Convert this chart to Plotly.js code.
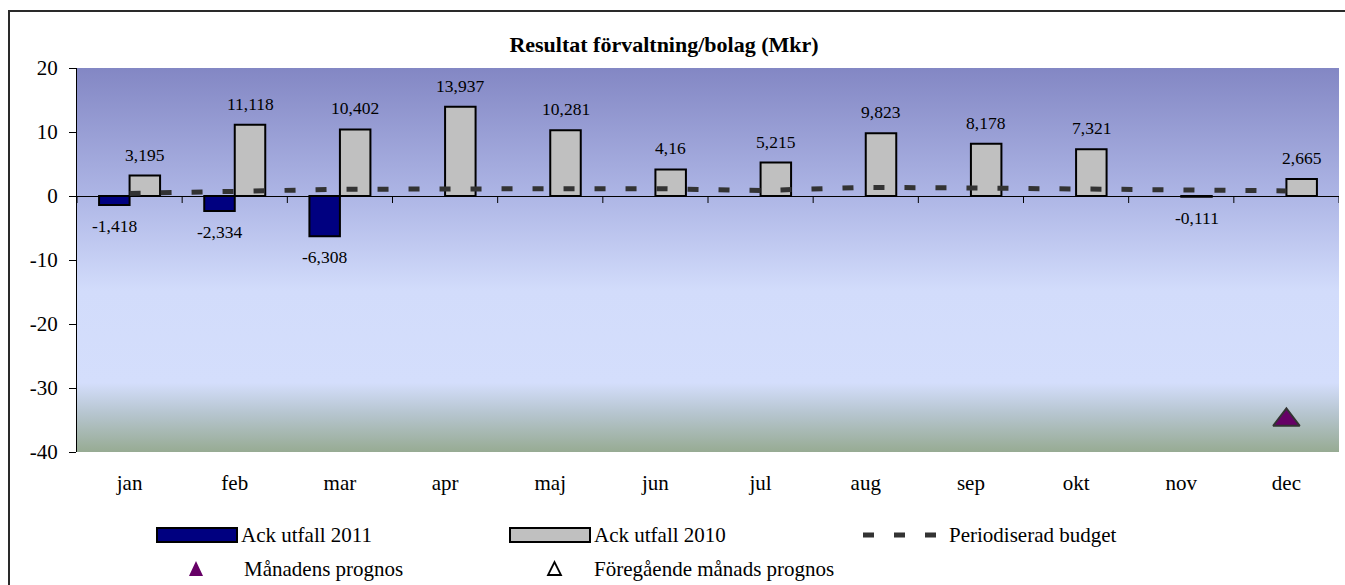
<!DOCTYPE html>
<html>
<head>
<meta charset="utf-8">
<script src="https://cdn.plot.ly/plotly-3.0.1.min.js"></script>
<style>
  html, body { margin: 0; padding: 0; background: #ffffff; overflow: hidden; }
  #wrap { position: relative; width: 1345px; height: 585px; overflow: hidden; }
  #frame { position: absolute; left: 8px; top: 10px; width: 1400px; height: 700px;
           border-left: 2px solid #2a2a2a; border-top: 2px solid #2a2a2a;
           border-right: none; border-bottom: none;
           box-sizing: border-box; pointer-events: none; z-index: 5; }
  #chart { position: absolute; left: 0; top: 0; width: 1345px; height: 585px; }
</style>
</head>
<body>
<div id="wrap">
  <div id="chart"></div>
  <div id="frame"></div>
</div>
<script>
// ---- data ----
const months = ['jan','feb','mar','apr','maj','jun','jul','aug','sep','okt','nov','dec'];
const ack2011 = [-1.418, -2.334, -6.308, null, null, null, null, null, null, null, null, null];
const ack2010 = [3.195, 11.118, 10.402, 13.937, 10.281, 4.16, 5.215, 9.823, 8.178, 7.321, -0.111, 2.665];
const budget  = [0.4, 0.8, 1.05, 1.1, 1.15, 1.15, 0.85, 1.35, 1.25, 1.15, 0.95, 0.8];
const manadensPrognos = [null, null, null, null, null, null, null, null, null, null, null, -35];
const foregaendePrognos = [null, null, null, null, null, null, null, null, null, null, null, null];
const yTicks = [-40, -30, -20, -10, 0, 10, 20];
const yRange = [-40, 20];

const seriesNames = ['Ack utfall 2011', 'Ack utfall 2010', 'Periodiserad budget', 'Månadens prognos', 'Föregående månads prognos'];

// ---- layout constants ----
const W = 1345, H = 585;
const M = {l: 77, r: 6, t: 68, b: 133};
const PW = W - M.l - M.r, PH = H - M.t - M.b;
const px = x => (x - M.l) / PW;
const py = y => (H - M.b - y) / PH;
const FONT = 'Liberation Serif, Times New Roman, serif';
const BARGAP = 0.42;
const half = (1 - BARGAP) / 4;   // offset of each bar centre within a group

const fmt = v => String(v).replace('.', ',');

const traces = [
  {type: 'bar', name: seriesNames[0], x: months, y: ack2011,
   marker: {color: '#000080', line: {color: '#000000', width: 2}}},
  {type: 'bar', name: seriesNames[1], x: months, y: ack2010,
   marker: {color: '#c0c0c0', line: {color: '#000000', width: 2}}},
  {type: 'scatter', mode: 'lines', name: seriesNames[2], x: months, y: budget,
   line: {color: '#333333', width: 5, dash: '11px,20px'}},
  {type: 'scatter', mode: 'markers', name: seriesNames[3], x: months, y: manadensPrognos,
   marker: {symbol: 'triangle-up', size: 23, color: '#660066', line: {color: '#333333', width: 2}}},
  {type: 'scatter', mode: 'markers', name: seriesNames[4], x: months, y: foregaendePrognos,
   marker: {symbol: 'triangle-up-open', size: 14, color: '#000000'}}
];

// ---- data labels ----
const annotations = [];
function addLabels(vals, offset) {
  vals.forEach((v, i) => {
    if (v === null) return;
    annotations.push({
      xref: 'x', yref: 'y', x: i + offset, y: v, text: fmt(v), showarrow: false,
      yanchor: v < 0 ? 'top' : 'bottom', yshift: v < 0 ? -9 : 9,
      font: {family: FONT, size: 17.5, color: '#000000'}
    });
  });
}
addLabels(ack2011, -half);
addLabels(ack2010, half);

// ---- category boundary ticks on the zero line ----
const shapes = [];
for (let i = 0; i <= months.length; i++) {
  shapes.push({type: 'line', xref: 'x', yref: 'y', ysizemode: 'pixel', yanchor: 0,
    x0: i - 0.5, x1: i - 0.5, y0: 0, y1: -7, line: {color: '#000000', width: 1}});
}

// ---- custom legend ----
const legendFont = {family: FONT, size: 21, color: '#000000'};
shapes.push({type: 'rect', xref: 'paper', yref: 'paper', x0: px(157), x1: px(237), y0: py(528), y1: py(542),
  fillcolor: '#000080', line: {color: '#000000', width: 2}});
shapes.push({type: 'rect', xref: 'paper', yref: 'paper', x0: px(510), x1: px(590), y0: py(528), y1: py(542),
  fillcolor: '#c0c0c0', line: {color: '#000000', width: 2}});
shapes.push({type: 'line', xref: 'paper', yref: 'paper', x0: px(863), x1: px(936), y0: py(535), y1: py(535),
  line: {color: '#333333', width: 5, dash: '11px,20px'}});
shapes.push({type: 'path', xref: 'paper', yref: 'paper',
  path: `M ${px(189)} ${py(576)} L ${px(203)} ${py(576)} L ${px(196)} ${py(561)} Z`,
  fillcolor: '#660066', line: {width: 0}});
shapes.push({type: 'path', xref: 'paper', yref: 'paper',
  path: `M ${px(548)} ${py(575)} L ${px(561)} ${py(575)} L ${px(554.5)} ${py(562)} Z`,
  fillcolor: 'rgba(0,0,0,0)', line: {color: '#000000', width: 1.8}});

const legendTexts = [
  [seriesNames[0], 239, 535], [seriesNames[1], 592, 535], [seriesNames[2], 947, 535],
  [seriesNames[3], 242, 569], [seriesNames[4], 592, 569]
];
legendTexts.forEach(([t, x, y]) => annotations.push({
  xref: 'paper', yref: 'paper', x: px(x), y: py(y), text: t, showarrow: false,
  xanchor: 'left', yanchor: 'middle', font: legendFont
}));

// ---- background gradient ----
const svg = "<svg xmlns='http://www.w3.org/2000/svg' width='100' height='100' preserveAspectRatio='none'>" +
  "<defs><linearGradient id='g' x1='0' y1='0' x2='0' y2='1'>" +
  "<stop offset='0' stop-color='#8387c4'/>" +
  "<stop offset='0.33' stop-color='#adb5e5'/>" +
  "<stop offset='0.58' stop-color='#d2dcfb'/>" +
  "<stop offset='0.82' stop-color='#d4defc'/>" +
  "<stop offset='0.9' stop-color='#b6c5cf'/>" +
  "<stop offset='1' stop-color='#97ab93'/>" +
  "</linearGradient></defs><rect width='100' height='100' fill='url(#g)'/></svg>";
const bgSrc = 'data:image/svg+xml;charset=utf-8,' + encodeURIComponent(svg);

const layout = {
  width: W, height: H,
  margin: M,
  paper_bgcolor: '#ffffff',
  plot_bgcolor: 'rgba(0,0,0,0)',
  font: {family: FONT, size: 21, color: '#000000'},
  showlegend: false,
  barmode: 'group', bargap: BARGAP, bargroupgap: 0,
  title: {text: '<b>Resultat förvaltning/bolag (Mkr)</b>', xref: 'container', yref: 'container',
          x: 664 / W, y: 1 - 44 / H, xanchor: 'center', yanchor: 'middle',
          font: {family: FONT, size: 22, color: '#000000'}},
  xaxis: {type: 'category', categoryarray: months, categoryorder: 'array', range: [-0.5, months.length - 0.5],
          showline: false, showgrid: false, zeroline: false, ticks: '',
          tickfont: {family: FONT, size: 21, color: '#000000'}, ticklabelstandoff: 16, fixedrange: true},
  yaxis: {range: yRange, tickvals: yTicks, ticktext: yTicks.map(String), showgrid: false,
          zeroline: true, zerolinecolor: '#000000', zerolinewidth: 1,
          showline: true, linecolor: '#000000', linewidth: 1, ticks: 'outside', ticklen: 7, tickcolor: '#000000',
          tickfont: {family: FONT, size: 21, color: '#000000'}, ticklabelstandoff: 7, fixedrange: true},
  images: [{source: bgSrc, xref: 'paper', yref: 'paper', x: 0, y: 1, sizex: 1, sizey: 1,
            xanchor: 'left', yanchor: 'top', sizing: 'stretch', layer: 'below'}],
  shapes: shapes,
  annotations: annotations
};

Plotly.newPlot('chart', traces, layout, {displayModeBar: false, staticPlot: true});
</script>
</body>
</html>
